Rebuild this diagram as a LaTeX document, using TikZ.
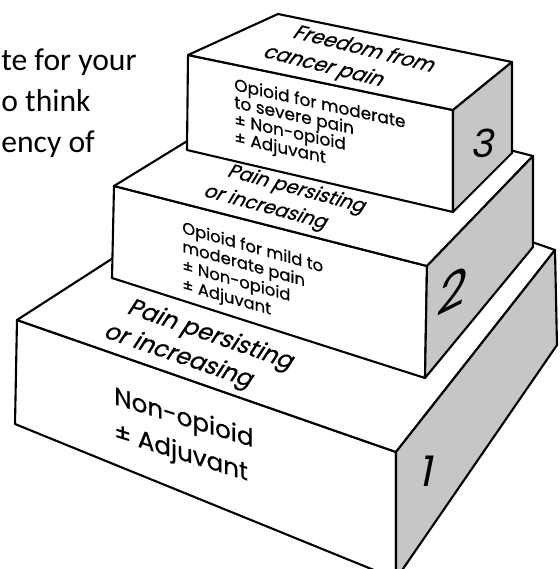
\documentclass[tikz,border=0pt]{standalone}
\usepackage{fontspec}
\setmainfont{Carlito}
\newfontfamily\boxfont{Poppins}[FakeBold=0.6]
\newfontfamily\tiltfont{Poppins}[FakeSlant=0.2]
\definecolor{sidegray}{RGB}{198,198,198}
\begin{document}
\begin{tikzpicture}[x=0.02cm, y=-0.02cm,
  face/.style={draw=black, fill=white, line width=1.2pt, line join=round},
  sideface/.style={face, fill=sidegray},
  frontlabel/.style={inner sep=0pt, anchor=north west, align=left},
  toplabel/.style={inner sep=0pt},
  slideline/.style={inner sep=0pt, anchor=base west, font=\fontsize{18}{20}\selectfont}]
\useasboundingbox (0,0) rectangle (559,569);
\clip (0,0) rectangle (559,569);
% cropped slide text
\node (slide1) [slideline] at (1,70) {te for your};
\node (slide2) [slideline] at (1,111) {o think};
\node (slide3) [slideline] at (1,152) {ency of};
% Step 1: bottom block
\coordinate (b1ftl) at (17,320);
\coordinate (b1ftr) at (396,452);
\coordinate (b1fbr) at (396,579);
\coordinate (b1fbl) at (15,424);
\coordinate (b1btl) at (276,153);
\coordinate (b1btr) at (555,250);
\coordinate (b1bbr) at (557,345);
\draw[face] (b1ftl) -- (b1ftr) -- (b1fbr) -- (b1fbl) -- cycle;
\draw[face] (b1ftl) -- (b1btl) -- (b1btr) -- (b1ftr) -- cycle;
\draw[sideface] (b1ftr) -- (b1btr) -- (b1bbr) -- (b1fbr) -- cycle;
% Step 2: middle block
\coordinate (b2ftl) at (114,186);
\coordinate (b2ftr) at (427,266);
\coordinate (b2fbr) at (425,378);
\coordinate (b2fbl) at (112,278);
\coordinate (b2btl) at (272,89);
\coordinate (b2btr) at (533,156);
\coordinate (b2bbr) at (533,247);
\draw[face] (b2ftl) -- (b2ftr) -- (b2fbr) -- (b2fbl) -- cycle;
\draw[face] (b2ftl) -- (b2btl) -- (b2btr) -- (b2ftr) -- cycle;
\draw[sideface] (b2ftr) -- (b2btr) -- (b2bbr) -- (b2fbr) -- cycle;
% Step 3: top block
\coordinate (b3ftl) at (188,55);
\coordinate (b3ftr) at (453,110);
\coordinate (b3fbr) at (453,212);
\coordinate (b3fbl) at (187,150);
\coordinate (b3btl) at (278,14);
\coordinate (b3btr) at (512,62);
\coordinate (b3bbr) at (512,153);
\draw[face] (b3ftl) -- (b3ftr) -- (b3fbr) -- (b3fbl) -- cycle;
\draw[face] (b3ftl) -- (b3btl) -- (b3btr) -- (b3ftr) -- cycle;
\draw[sideface] (b3ftr) -- (b3btr) -- (b3bbr) -- (b3fbr) -- cycle;
% labels on the fronts
\node (s1body) [frontlabel, yslant=-0.31, font=\boxfont\fontsize{14}{20}\selectfont] at (114,385) {Non-opioid\\± Adjuvant};
\node (s2body) [frontlabel, yslant=-0.28, font=\boxfont\fontsize{9.3}{10.8}\selectfont] at (182,220) {Opioid for mild to\\moderate pain\\± Non-opioid\\± Adjuvant};
\node (s3body) [frontlabel, yslant=-0.22, font=\boxfont\fontsize{9.6}{10}\selectfont] at (234,77) {Opioid for moderate\\to severe pain\\± Non-opioid\\± Adjuvant};
% labels on the tops
\node (s1topa) [toplabel, rotate=-19, xslant=0.25, font=\boxfont\fontsize{13.5}{16}\selectfont] at (211,336) {Pain persisting};
\node (s1topb) [toplabel, rotate=-19, xslant=0.25, font=\boxfont\fontsize{13.5}{16}\selectfont] at (179,357) {or increasing};
\node (s2topa) [toplabel, rotate=-15, xslant=0.3, font=\boxfont\fontsize{11}{13}\selectfont] at (297,190) {Pain persisting};
\node (s2topb) [toplabel, rotate=-15, xslant=0.3, font=\boxfont\fontsize{11}{13}\selectfont] at (266,208) {or increasing};
\node (s3topa) [toplabel, rotate=-14, xslant=0.4, font=\boxfont\fontsize{11.5}{13}\selectfont] at (366,48) {Freedom from};
\node (s3topb) [toplabel, rotate=-14, xslant=0.4, font=\boxfont\fontsize{11.5}{13}\selectfont] at (324,67) {cancer pain};
% step numbers on the sides
\node (n1) [inner sep=0pt, font=\tiltfont\fontsize{24}{24}\selectfont] at (425,471) {1};
\node (n2) [inner sep=0pt, yslant=0.5, font=\tiltfont\fontsize{28}{28}\selectfont] at (450,292) {2};
\node (n3) [inner sep=0pt, font=\tiltfont\fontsize{22}{22}\selectfont] at (482,143) {3};
\end{tikzpicture}
\end{document}
